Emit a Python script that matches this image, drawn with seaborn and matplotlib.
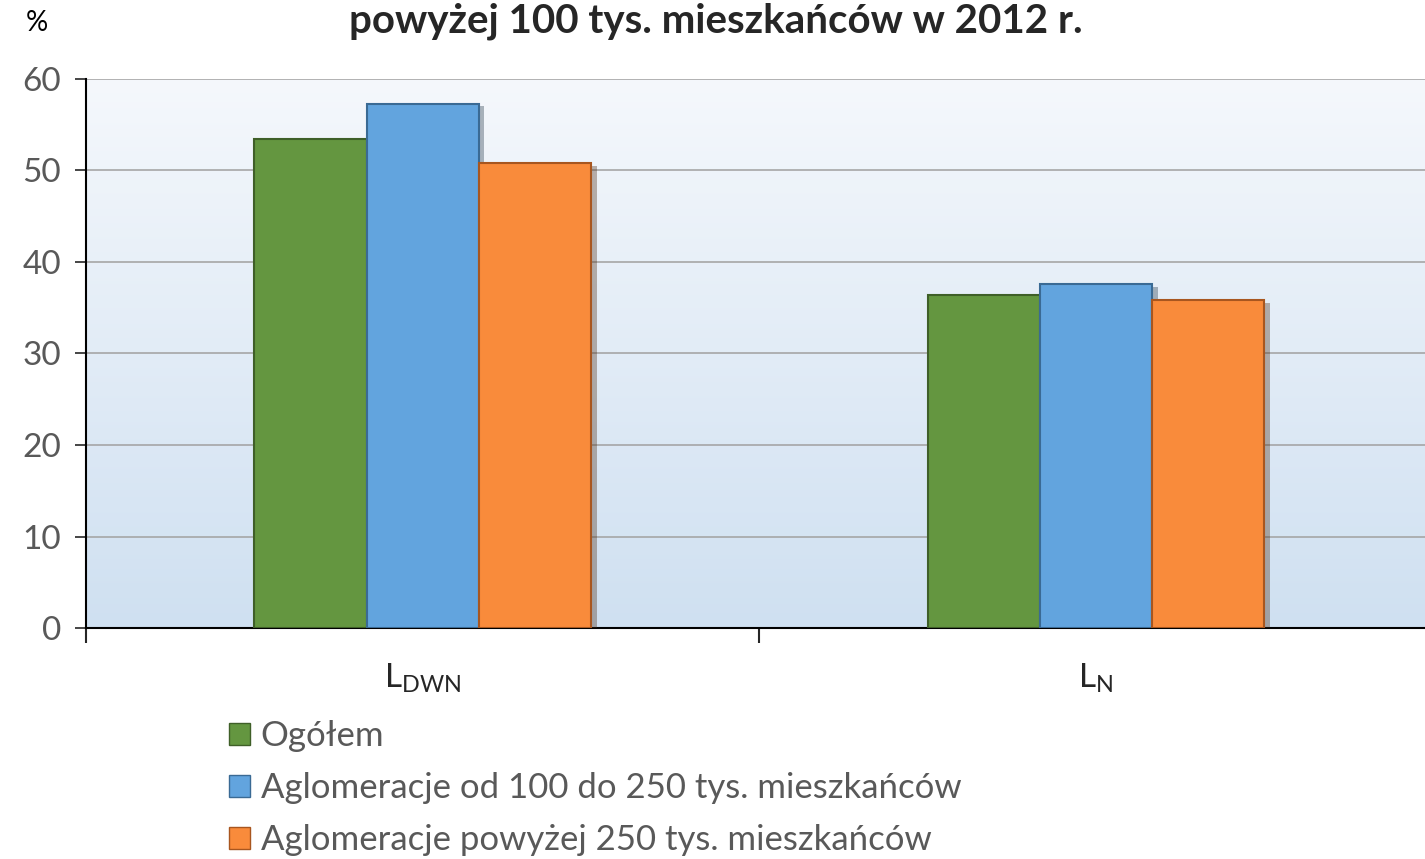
import numpy as np
import pandas as pd
import seaborn as sns
import matplotlib.pyplot as plt
import matplotlib.patheffects as pe
from matplotlib.colors import LinearSegmentedColormap

# dane
kategorie = ['L$_\\mathregular{DWN}$', 'L$_\\mathregular{N}$']
serie = ['Ogółem', 'Aglomeracje od 100 do 250 tys. mieszkańców',
         'Aglomeracje powyżej 250 tys. mieszkańców']
ogolem = [53.4, 36.4]
agl_100_250 = [57.3, 37.6]
agl_pow_250 = [50.8, 35.8]

kolory = ['#649640', '#62a4de', '#f98b3b']
krawedzie = ['#3f5f28', '#3a6a94', '#a8561f']

df = pd.DataFrame({
    'kat': kategorie * 3,
    'seria': [serie[0]] * 2 + [serie[1]] * 2 + [serie[2]] * 2,
    'wartosc': ogolem + agl_100_250 + agl_pow_250,
})

sns.set_style('white')
plt.rcParams['font.family'] = ['Lato', 'DejaVu Sans']
plt.rcParams['mathtext.fontset'] = 'custom'
plt.rcParams['mathtext.rm'] = 'Lato'

fig = plt.figure(figsize=(14.25, 8.59), dpi=100)
ax = fig.add_axes([0.0604, 0.2689, 0.945, 0.6392])

# gradientowe tło obszaru wykresu
grad = np.linspace(0, 1, 256).reshape(-1, 1)
cmap = LinearSegmentedColormap.from_list('tlo', ['#cfe0f1', '#f5f8fc'])
ax.imshow(grad, aspect='auto', cmap=cmap, origin='lower',
          extent=[-0.5, 1.5, 0, 60], zorder=0)

sns.barplot(data=df, x='kat', y='wartosc', hue='seria', palette=kolory,
            width=0.5, ax=ax, zorder=3, saturation=1)

for i, cont in enumerate(ax.containers):
    for p in cont:
        p.set_edgecolor(krawedzie[i])
        p.set_linewidth(1.5)
        p.set_path_effects([pe.SimplePatchShadow(offset=(4, -2), alpha=0.35),
                            pe.Normal()])

ax.set_xlim(-0.5, 1.5)
ax.set_ylim(0, 60)
ax.set_yticks(range(0, 61, 10))
ax.yaxis.grid(True, color='#a6a6a6', linewidth=1.2, zorder=1)
ax.set_axisbelow(True)
ax.set_xlabel('')
ax.set_ylabel('')

ax.tick_params(axis='y', labelsize=24, labelcolor='#595959', length=8,
               width=1.2, direction='out', left=True, pad=10)
ax.tick_params(axis='x', which='major', length=0, labelsize=24, pad=24)
ax.set_xticks([-0.5, 0.5], minor=True)
ax.tick_params(axis='x', which='minor', length=11, width=1.5, direction='out', bottom=True)

for s in ['top', 'right']:
    ax.spines[s].set_visible(False)
for s in ['left', 'bottom']:
    ax.spines[s].set_color('black')
    ax.spines[s].set_linewidth(1.5)

fig.text(0.026, 0.973, '%', fontsize=20, ha='center', va='center', color='black')
fig.text(0.502, 0.962, 'powyżej 100 tys. mieszkańców w 2012 r.', fontsize=29,
         fontweight='bold', ha='center', va='baseline')

ax.get_legend().remove()
uchwyty = [plt.Rectangle((0, 0), 1, 1, facecolor=kolory[i], edgecolor=krawedzie[i])
           for i in range(3)]
fig.legend(uchwyty, serie, loc='upper left', bbox_to_anchor=(0.161, 0.162),
           frameon=False, fontsize=25, labelcolor='#595959', handlelength=0.6,
           handleheight=0.6, handletextpad=0.3, labelspacing=0.58,
           borderaxespad=0, borderpad=0)

fig.savefig('out.png', dpi=100)
